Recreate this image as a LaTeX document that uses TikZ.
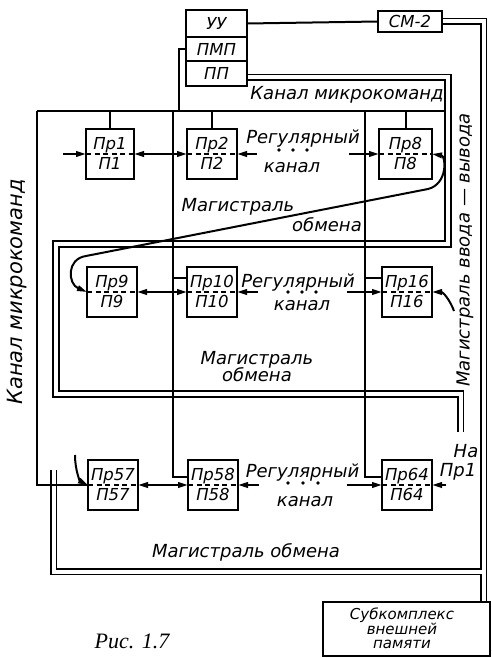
\documentclass[tikz,border=0pt]{standalone}
\usepackage{fontspec}
\newfontfamily\gostfont{DejaVu Sans Oblique}
\newfontfamily\capfont{Liberation Serif Italic}
\usetikzlibrary{arrows.meta}
\newcommand\PrNode[4]{%
 \node[shp,minimum width=#4pt,minimum height=50pt] (#1) at (#2,#3) {};}
\newcommand\PrDraw[3]{%
 \draw[boxst] (#1.south west) rectangle (#1.north east);
 \draw[midl] (#1.west) -- (#1.east);
 \node[lbl,anchor=base] (#1t) at ([yshift=4.5pt]#1.center) {#2};
 \node[lbl,anchor=base] (#1b) at ([yshift=-15pt]#1.center) {#3};}
\begin{document}
\begin{tikzpicture}[x=1pt,y=-1pt,line width=2pt,>={Triangle[length=10pt,width=5.5pt]},
  every node/.style={inner sep=0pt},
  shp/.style={outer sep=0pt},
  boxst/.style={draw,line width=2pt,fill=white},
  lbl/.style={font=\gostfont\fontsize{16.5}{18}\selectfont},
  mlbl/.style={font=\gostfont\fontsize{18}{20}\selectfont},
  dblk/.style={line width=7.4pt,line join=miter},
  dblw/.style={white,line width=4pt,line join=miter},
  midl/.style={line width=1.5pt,dash pattern=on 5pt off 3.5pt},
  ]
\useasboundingbox (0,0) rectangle (491,658);
% node shapes (drawn later, on top of the lines)
\node[shp,minimum width=61pt,minimum height=27pt] (UU) at (216.5,23.5) {};
\node[shp,minimum width=61pt,minimum height=24pt] (PMP) at (216.5,49) {};
\node[shp,minimum width=61pt,minimum height=25pt] (PP) at (216.5,73.5) {};
\node[shp,minimum width=64pt,minimum height=21pt] (CM) at (410,21.5) {};
\node[shp,minimum width=167pt,minimum height=54pt] (SUB) at (406.5,629) {};
\PrNode{P1}{110}{154}{48}
\PrNode{P2}{212}{154}{50}
\PrNode{P8}{405.5}{154}{53}
\PrNode{P9}{112}{292}{50}
\PrNode{P10}{212}{292}{50}
\PrNode{P16}{407}{292}{50}
\PrNode{P57}{113}{485}{50}
\PrNode{P58}{213}{485}{50}
\PrNode{P64}{407}{485}{50}
% coordinates
\coordinate (A1) at (448,77.5);
\coordinate (A2) at (448,244);
\coordinate (A3) at (56,244);
\coordinate (A4) at (56,394);
\coordinate (A5) at (460.5,394);
\coordinate (A6) at (460.5,432);
\coordinate (B1) at (483.5,21.5);
\coordinate (C0) at (53.5,470);
\coordinate (C1) at (53.5,571.5);
\coordinate (C2) at (483.5,571.5);
\coordinate (J0) at (179,111);
\coordinate (ML) at (37,111);
\coordinate (MR) at (445.5,111);
\coordinate (MM) at (173,111);
\coordinate (MRR) at (365,111);
\coordinate (a1) at (63,154);
\coordinate (a8) at (349,154);
\coordinate (k1) at (428,189);
\coordinate (k2) at (86,256);
\coordinate (a16) at (347,292);
\coordinate (e16) at (454,311);
\coordinate (s57) at (75,455);
\coordinate (a64) at (347,485);
\coordinate (n1) at (446,485);
% double buses: black pass
\draw[dblk] (PP.east |- A1) -- (A1) -- (A2) -- (A3) -- (A4) -- (A5) -- (A6);
\draw[dblk] (CM.east) -- (B1) -- (B1 |- SUB.north);
\draw[dblk] (C0) -- (C1) -- (C2);
% white pass
\draw[dblw] (PP.east |- A1) -- (A1) -- (A2) -- (A3) -- (A4) -- (A5) -- (A6);
\draw[dblw] (CM.east) -- (B1) -- (B1 |- SUB.north);
\draw[dblw] (C0) -- (C1) -- (C2);
% microcommand channel
\draw (PMP.west) -| (J0);
\draw (ML) -- (MR);
\draw (ML) |- (P57.west);
\draw (MM) |- ([yshift=8pt]P58.west);
\draw (MRR) |- ([yshift=8pt]P64.west);
\draw ([yshift=14pt]P10.west) -- ++(-14,0);
\draw ([yshift=14pt]P16.west) -- ++(-17,0);
\draw (P1.north) -- (P1.north |- ML);
\draw (P2.north) -- (P2.north |- ML);
\draw (P8.north) -- (P8.north |- ML);
\draw (UU.east) -- (CM.west);
% regular channel
\draw[->] (a1) -- (P1.west);
\draw[<->] (P1.east) -- (P2.west);
\draw[<-] (P2.east) -- ++(20,0);
\draw[->] (a8) -- (P8.west);
\draw[<->] (P8.east) .. controls (446,156) and (448,184) .. (k1) -- (k2) .. controls (66,259) and (68,284) .. (P9.west);
\draw[<->] (P9.east) -- (P10.west);
\draw[<-] (P10.east) -- ++(21,0);
\draw[->] (a16) -- (P16.west);
\draw[<-] (P16.east) .. controls (443,292) and (450,300) .. (e16);
\draw[->] (s57) .. controls (75,470) and (80,481) .. (P57.west);
\draw[<->] (P57.east) -- (P58.west);
\draw[<-] (P58.east) -- ++(21,0);
\draw[->] (a64) -- (P64.west);
\draw[<-] (P64.east) -- (n1);
% boxes on top
\draw[boxst] (UU.south west) rectangle (UU.north east);
\draw[boxst] (PMP.south west) rectangle (PMP.north east);
\draw[boxst] (PP.south west) rectangle (PP.north east);
\draw[boxst] (CM.south west) rectangle (CM.north east);
\draw[boxst] (SUB.south west) rectangle (SUB.north east);
\node[lbl] (UUt) at (UU.center) {УУ};
\node[lbl] (PMPt) at (PMP.center) {ПМП};
\node[lbl] (PPt) at (PP.center) {ПП};
\node[lbl] (CMt) at (CM.center) {СМ-2};
\node[lbl,anchor=base,font=\gostfont\fontsize{15}{16}\selectfont] (sub1) at (402,619.5) {Субкомплекс};
\node[lbl,anchor=base,font=\gostfont\fontsize{15}{16}\selectfont] (sub2) at (402,634) {внешней};
\node[lbl,anchor=base,font=\gostfont\fontsize{15}{16}\selectfont] (sub3) at (402,648.5) {памяти};
\PrDraw{P1}{Пр1}{П1}
\PrDraw{P2}{Пр2}{П2}
\PrDraw{P8}{Пр8}{П8}
\PrDraw{P9}{Пр9}{П9}
\PrDraw{P10}{Пр10}{П10}
\PrDraw{P16}{Пр16}{П16}
\PrDraw{P57}{Пр57}{П57}
\PrDraw{P58}{Пр58}{П58}
\PrDraw{P64}{Пр64}{П64}
% labels
\node[mlbl] (tKM) at (347,95) {Канал микрокоманд};
\node[font=\gostfont\fontsize{21}{24}\selectfont,rotate=90] (tKMv) at (17,292) {Канал микрокоманд};
\node[mlbl,rotate=90] (tMVV) at (465,250) {Магистраль ввода — вывода};
\node[mlbl,anchor=base] (r1a) at (303,143) {Регулярный};
\node[mlbl,anchor=base] (r1b) at (292,172) {канал};
\node[mlbl,anchor=base] (r2a) at (298,287) {Регулярный};
\node[mlbl,anchor=base] (r2b) at (302,310) {канал};
\node[mlbl,anchor=base] (r3a) at (302.5,477) {Регулярный};
\node[mlbl,anchor=base] (r3b) at (305,506) {канал};
\foreach \x in {279,293,307} \fill (\x,150) circle (1.8pt);
\foreach \x in {288,302,316} \fill (\x,292) circle (1.8pt);
\foreach \x in {288,303,318} \fill (\x,483) circle (1.8pt);
\node[mlbl,anchor=base] (m1a) at (238,211) {Магистраль};
\node[mlbl,anchor=base] (m1b) at (327,231) {обмена};
\node[mlbl,anchor=base] (m2a) at (257,364) {Магистраль};
\node[mlbl,anchor=base] (m2b) at (257,381) {обмена};
\node[mlbl,anchor=base] (m3) at (246,557) {Магистраль обмена};
\node[mlbl,anchor=base] (na1) at (466,457) {На};
\node[mlbl,anchor=base] (na2) at (458,476) {Пр1};
\node[font=\capfont\fontsize{22}{24}\selectfont,anchor=base] (cap) at (132,648) {Рис. 1.7};
\end{tikzpicture}
\end{document}
